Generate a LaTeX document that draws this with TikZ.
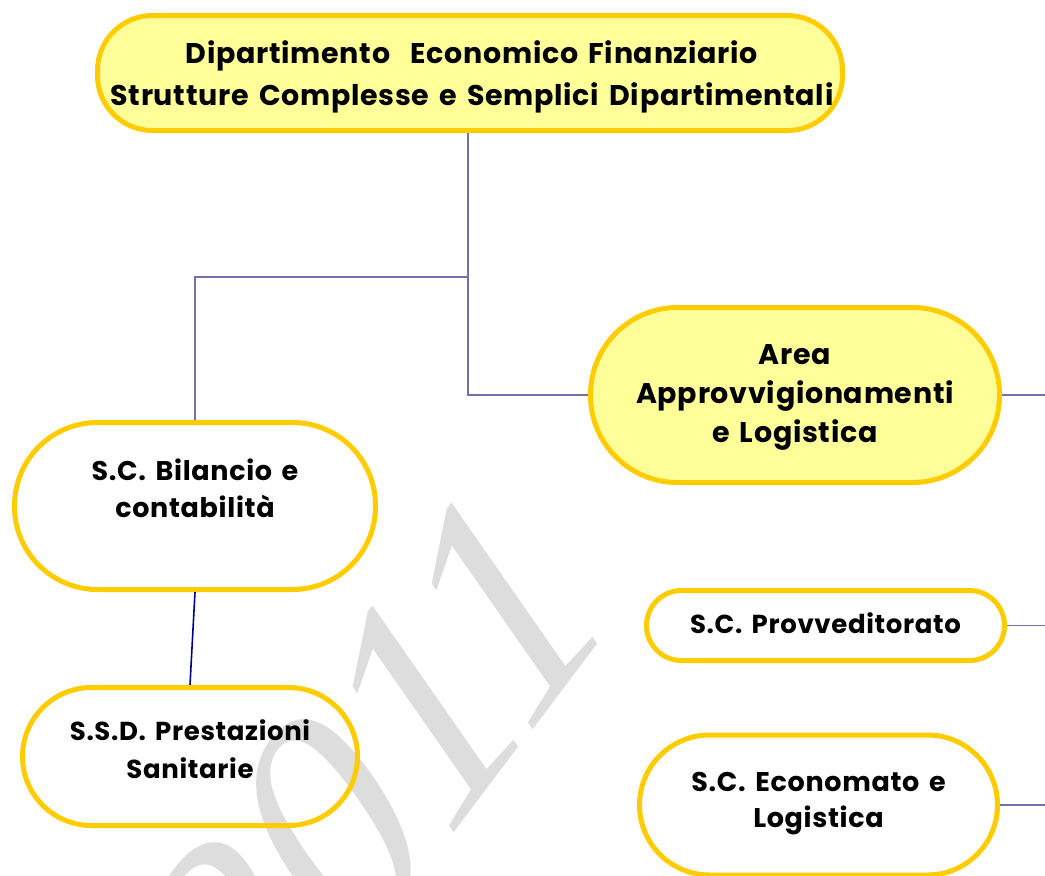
\documentclass[tikz,border=0pt]{standalone}
\usepackage{fontspec}
\setmainfont{Poppins}[WordSpace=1.5, LetterSpace=2.5]
\newfontfamily\wmfont{Liberation Serif}
\usetikzlibrary{calc}
\definecolor{boxborder}{HTML}{FFCC00}
\definecolor{boxfill}{HTML}{FFFF99}
\definecolor{linkcol}{HTML}{7070AA}
\definecolor{navy}{HTML}{000090}
\definecolor{wmcol}{HTML}{DDDDDD}
\tikzset{
  unitbox/.style={draw=boxborder, line width=5pt, rectangle, inner sep=0pt},
  hilite/.style={unitbox, fill=boxfill},
  boxtext/.style={align=center, font=\fontsize{27}{38}\selectfont\bfseries, inner sep=0pt},
  link/.style={draw=linkcol, line width=1.6pt},
  darklink/.style={draw=navy, line width=1.6pt}
}
\begin{document}
\begin{tikzpicture}[x=1pt,y=-1pt]
\useasboundingbox[fill=white] (0,0) rectangle (1045,876);
% watermark
\node[text=wmcol, anchor=base, transform shape, rotate=53, xslant=0.15, inner sep=0pt,
      font=\wmfont\itshape\fontsize{305}{305}\selectfont] (wm) at (441,851) {2011};
% boxes
\node[hilite, minimum width=745pt, minimum height=115pt, rounded corners=55pt] (top) at (470,73) {};
\node[hilite, minimum width=409pt, minimum height=175pt, rounded corners=87pt] (area) at (795,395) {};
\node[unitbox, minimum width=361pt, minimum height=167pt, rounded corners=83pt] (bil) at (195,506) {};
\node[unitbox, minimum width=335pt, minimum height=138pt, rounded corners=69pt] (ssd) at (190,756.5) {};
\node[unitbox, minimum width=358pt, minimum height=70pt, rounded corners=35pt] (prov) at (825.5,625.5) {};
\node[unitbox, minimum width=358pt, minimum height=140pt, rounded corners=70pt] (eco) at (818.5,805) {};
% texts
\node[boxtext, font=\fontsize{28.5}{42}\selectfont\bfseries] (toptext) at (472,77) {Dipartimento\ \ Economico Finanziario\\Strutture Complesse e Semplici Dipartimentali};
\node[boxtext, font=\fontsize{28.5}{39}\selectfont\bfseries] (areatext) at (795,397) {Area\\Approvvigionamenti\\e Logistica};
\node[boxtext, font=\fontsize{27}{37}\selectfont\bfseries] (biltext) at (195,488) {S.C. Bilancio e\\contabilità};
\node[boxtext, font=\fontsize{26}{38}\selectfont\bfseries] (ssdtext) at (190,749) {S.S.D. Prestazioni\\Sanitarie};
\node[boxtext, font=\fontsize{26}{38}\selectfont\bfseries] (provtext) at (825.5,623) {S.C. Provveditorato};
\node[boxtext, font=\fontsize{27}{36}\selectfont\bfseries] (ecotext) at (818.5,804) {S.C. Economato e\\Logistica};
% connectors
\coordinate (fork) at (468,277);
\coordinate (areaout) at (1045,395);
\coordinate (provout) at (1045,625.5);
\coordinate (ecoout) at (1045,805);
\draw[link] (fork |- top.south) -- (fork);
\draw[link] (fork) -| (bil.north);
\draw[link] (fork) |- (area.west);
\draw[link] (area.east) -- (areaout);
\draw[link] (prov.east) -- (provout);
\draw[link] (eco.east) -- (ecoout);
\draw[darklink] (bil.south) -- (ssd.north);
\end{tikzpicture}
\end{document}
